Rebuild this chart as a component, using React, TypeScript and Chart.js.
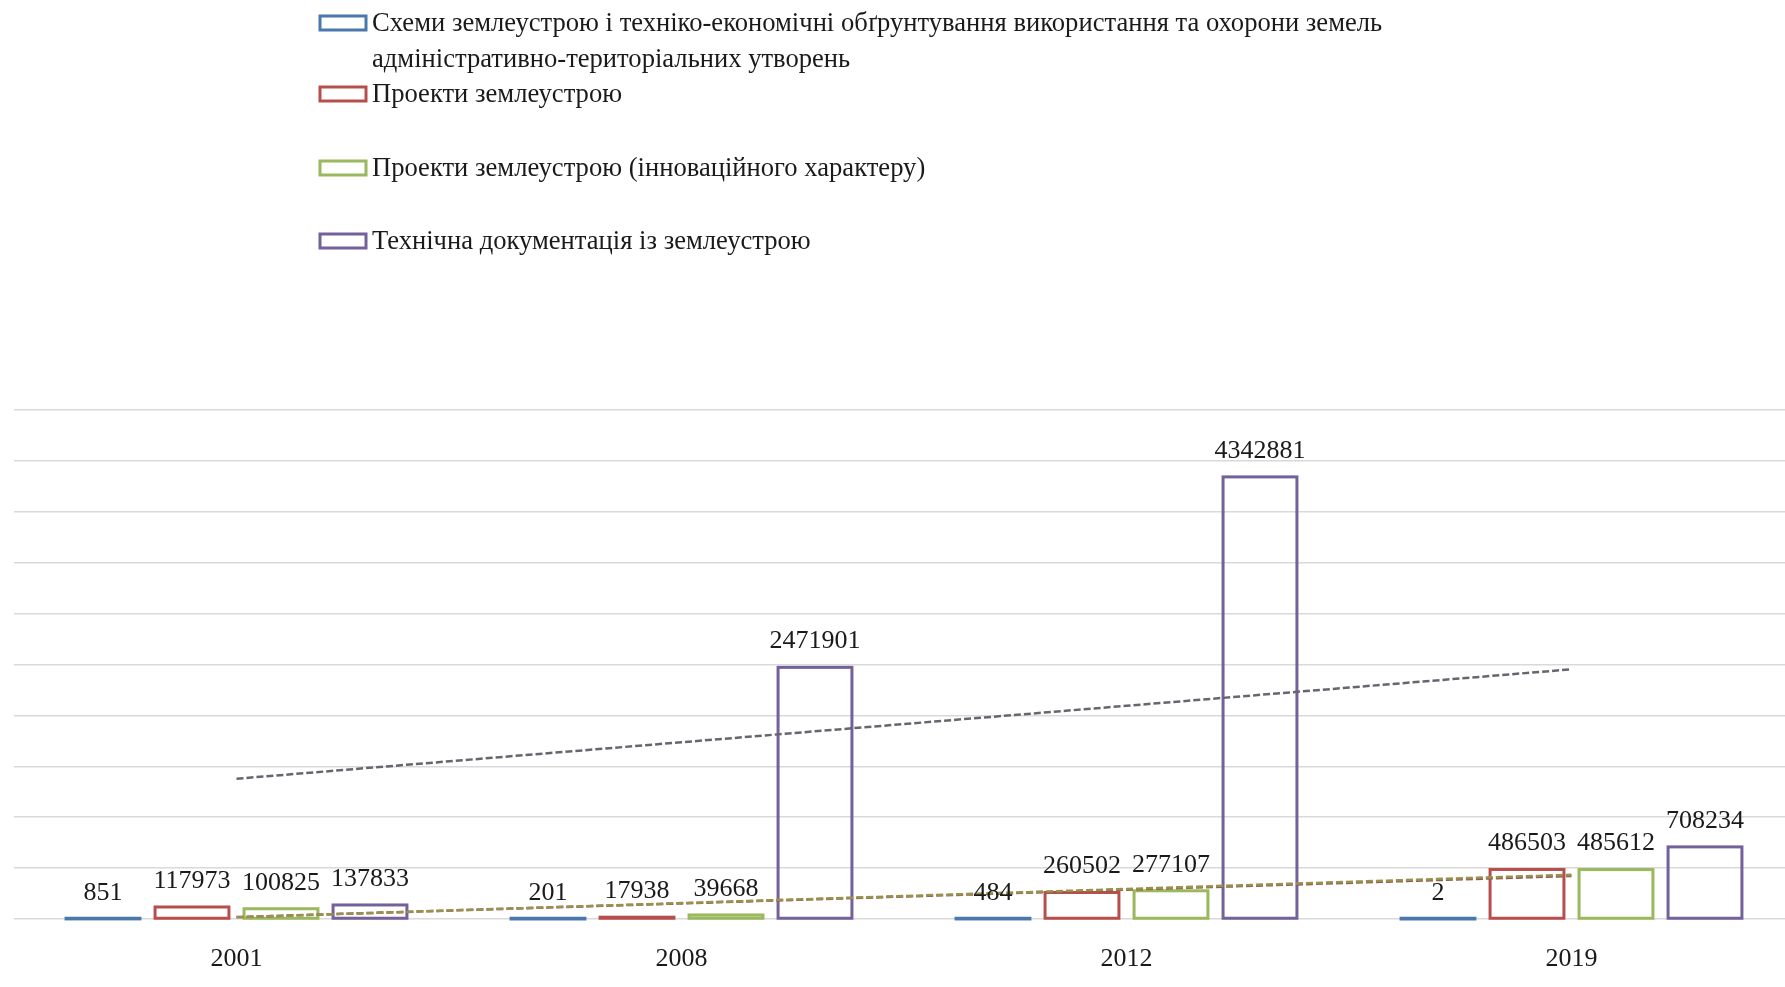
import React, { useEffect, useRef } from "react";
import { Chart, registerables } from "chart.js";

Chart.register(...registerables);

// Years on the category axis
const years = ["2001", "2008", "2012", "2019"];

// Number of land-management documents per type
const schemes = [851, 201, 484, 2];
const projects = [117973, 17938, 260502, 486503];
const innovativeProjects = [100825, 39668, 277107, 485612];
const technicalDocs = [137833, 2471901, 4342881, 708234];

// Legend captions (first one wraps onto two lines)
const captionSchemes = [
  "Схеми землеустрою і техніко-економічні обґрунтування використання та охорони земель",
  "адміністративно-територіальних утворень",
];
const captionProjects = ["Проекти землеустрою"];
const captionInnovative = ["Проекти землеустрою (інноваційного характеру)"];
const captionTechnical = ["Технічна документація із землеустрою"];

// Value axis range
const yMin = 0;
const yMax = 5000000;
const yStep = 500000;

const SERIF = "'Liberation Serif', 'Times New Roman', serif";
const TEXT = "#1a1a1a";

const series = [
  { data: schemes, caption: captionSchemes, color: "#4a78ad", trendColor: null },
  { data: projects, caption: captionProjects, color: "#b84e4b", trendColor: "#8c5c52" },
  { data: innovativeProjects, caption: captionInnovative, color: "#9ab85c", trendColor: "#9a914c" },
  { data: technicalDocs, caption: captionTechnical, color: "#74609a", trendColor: "#66666e" },
];

// Least-squares linear trend evaluated at each category (x = 1..n)
function linearTrend(values: number[]): number[] {
  const n = values.length;
  const xs = values.map((_, i) => i + 1);
  const mx = xs.reduce((a, b) => a + b, 0) / n;
  const my = values.reduce((a, b) => a + b, 0) / n;
  let sxy = 0;
  let sxx = 0;
  for (let i = 0; i < n; i++) {
    sxy += (xs[i] - mx) * (values[i] - my);
    sxx += (xs[i] - mx) * (xs[i] - mx);
  }
  const slope = sxy / sxx;
  const intercept = my - slope * mx;
  return xs.map((x) => intercept + slope * x);
}

// Outlined bars with a centred stroke, so near-zero values still show as a line
const barOutlinePlugin = {
  id: "barOutline",
  beforeDatasetsDraw(chart: any) {
    const ctx = chart.ctx;
    ctx.save();
    chart.data.datasets.forEach((ds: any, di: number) => {
      if (ds.type !== "bar") return;
      const meta = chart.getDatasetMeta(di);
      meta.data.forEach((el: any) => {
        const { x, y, base, width } = el.getProps(["x", "y", "base", "width"], true);
        const top = Math.min(y, base);
        const h = Math.abs(base - y);
        ctx.strokeStyle = ds.outlineColor;
        ctx.lineWidth = 3;
        ctx.strokeRect(x - width / 2, top, width, Math.max(h, 0.01));
      });
    });
    ctx.restore();
  },
};

// Value labels above every bar
const valueLabelPlugin = {
  id: "valueLabels",
  afterDatasetsDraw(chart: any) {
    const ctx = chart.ctx;
    ctx.save();
    ctx.font = `26px ${SERIF}`;
    ctx.fillStyle = TEXT;
    ctx.textAlign = "center";
    ctx.textBaseline = "middle";
    chart.data.datasets.forEach((ds: any, di: number) => {
      if (ds.type !== "bar") return;
      const meta = chart.getDatasetMeta(di);
      meta.data.forEach((el: any, i: number) => {
        const { x, y } = el.getProps(["x", "y"], true);
        ctx.fillText(String(ds.data[i]), x, y - 26);
      });
    });
    ctx.restore();
  },
};

// Vertical legend in the upper part of the canvas
const legendRows = [[23, 59], [94], [168], [241]];
const legendPlugin = {
  id: "topLegend",
  afterDraw(chart: any) {
    const ctx = chart.ctx;
    ctx.save();
    ctx.font = `26.6px ${SERIF}`;
    ctx.textBaseline = "middle";
    ctx.textAlign = "left";
    series.forEach((s, i) => {
      const rows = legendRows[i];
      ctx.fillStyle = "#ffffff";
      ctx.fillRect(320, rows[0] - 7, 46, 14);
      ctx.strokeStyle = s.color;
      ctx.lineWidth = 3;
      ctx.strokeRect(320, rows[0] - 7, 46, 14);
      ctx.fillStyle = TEXT;
      s.caption.forEach((line, li) => {
        ctx.fillText(line, 372, rows[li] + 1);
      });
    });
    ctx.restore();
  },
};

export default function App() {
  const canvasRef = useRef<HTMLCanvasElement | null>(null);

  useEffect(() => {
    if (!canvasRef.current) return;
    const barSets = series.map((s, i) => ({
      type: "bar" as const,
      label: s.caption.join(" "),
      data: s.data,
      backgroundColor: "rgba(0,0,0,0)",
      borderWidth: 0,
      outlineColor: s.color,
      categoryPercentage: 0.8,
      barPercentage: 0.83,
      order: 10 + i,
    }));
    const trendSets = series
      .filter((s) => s.trendColor)
      .map((s, i) => ({
        type: "line" as const,
        label: "trend " + i,
        data: linearTrend(s.data),
        borderColor: s.trendColor as string,
        borderWidth: 2.5,
        borderDash: [7, 3],
        pointRadius: 0,
        fill: false,
        tension: 0,
        order: 4 - i,
      }));

    const chart = new Chart(canvasRef.current, {
      data: { labels: years, datasets: [...barSets, ...trendSets] as any },
      options: {
        responsive: false,
        animation: false,
        devicePixelRatio: 1,
        layout: { padding: { top: 410, left: 14, right: 6, bottom: 0 } },
        plugins: {
          legend: { display: false },
          tooltip: { enabled: false },
          title: { display: false },
        },
        scales: {
          x: {
            type: "category",
            offset: true,
            grid: { display: false, drawTicks: false },
            border: { display: false },
            ticks: {
              color: TEXT,
              font: { family: SERIF, size: 26 },
              padding: 25,
              maxRotation: 0,
            },
            afterFit: (axis: any) => {
              axis.height = 68;
            },
          },
          y: {
            min: yMin,
            max: yMax,
            ticks: { display: false, stepSize: yStep },
            grid: { color: "#d9d9d9", lineWidth: 1.5, drawTicks: false },
            border: { display: false },
            afterFit: (axis: any) => {
              axis.width = 0;
            },
          },
        },
      } as any,
      plugins: [barOutlinePlugin, valueLabelPlugin, legendPlugin],
    });
    return () => chart.destroy();
  }, []);

  return (
    <div
      style={{
        position: "fixed",
        left: 0,
        top: 0,
        width: 1785,
        height: 987,
        overflow: "hidden",
        background: "#ffffff",
      }}
    >
      <canvas ref={canvasRef} width={1800} height={987} style={{ display: "block" }} />
    </div>
  );
}
